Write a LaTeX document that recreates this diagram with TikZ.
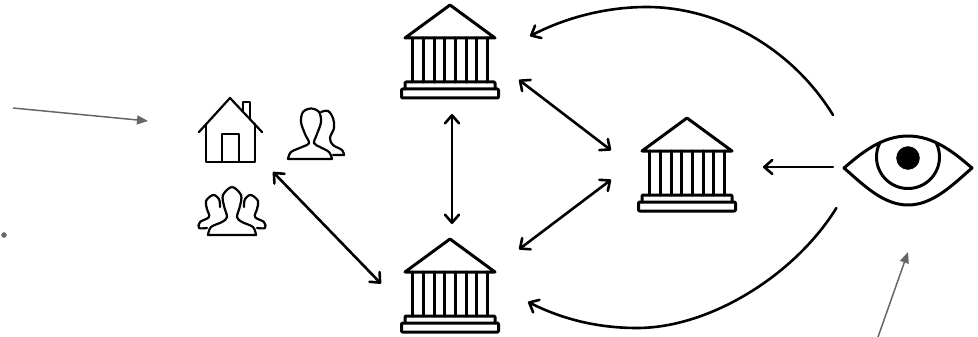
\documentclass[tikz,border=0pt]{standalone}
\usetikzlibrary{arrows.meta}

\begin{document}
\begin{tikzpicture}[x=1pt,y=-1pt]

    \tikzset{
      iconbox/.style={
        inner sep=0pt,
        outer sep=0pt,
        minimum width=138pt,
        minimum height=124pt,
      },
      icon/.style={
        line width=2.2pt,
        line join=round,
        line cap=round,
      },
      link/.style={
        line width=2.6pt,
        line cap=round,
        {Straight Barb[length=8pt,width=14pt,round]}-{Straight Barb[length=8pt,width=14pt,round]},
      },
      oneway/.style={
        line width=2.6pt,
        line cap=round,
        -{Straight Barb[length=8pt,width=14pt,round]},
      },
      pointer/.style={
        line width=1.5pt,
        color={black!60},
        -{Triangle[length=11pt,width=9pt]},
      },
      bank/.pic={
        \draw[icon,line width=3pt] (0,-47) -- (45,-14) -- (-45,-14) -- cycle;
        \foreach \x in {-37.5,-26.8,-16,-5.4,5.4,16,26.8,37.5}
          \draw[icon,line width=3pt] (\x,-14) -- (\x,30);
        \draw[icon,line width=3pt,rounded corners=1pt] (-45,37) -- (-45,30) -- (45,30) -- (45,37);
        \draw[icon,line width=3pt,rounded corners=1pt] (-48.5,37) rectangle (48.5,46);
      },
    }
    \useasboundingbox (0,0) rectangle (978,337);

    \node[iconbox] (banktop) at (450,52) {};
    \node[iconbox] (bankbottom) at (450,286) {};
    \node[iconbox,minimum width=152pt] (bankright) at (687,165) {};
    \node[iconbox,minimum width=86pt,minimum height=84pt] (house) at (230,130) {};
    \node[iconbox,minimum width=150pt,minimum height=93pt] (eye) at (908,161.5) {};
    \coordinate (pointerastart) at (13,108);
    \coordinate (pointeraend) at (148,121);
    \coordinate (pointerbstart) at (878,337);
    \coordinate (pointerbend) at (908,252);

    \pic at (banktop) {bank};
    \pic at (bankbottom) {bank};
    \pic at (bankright) {bank};

    % house
    \begin{scope}[shift={(house)}]
      \draw[icon] (-31,2) -- (0,-32) -- (32,2);
      \draw[icon] (-24,-6) -- (-24,32) -- (25,32) -- (25,-6);
      \draw[icon] (-8,32) -- (-8,4) -- (9,4) -- (9,32);
      \draw[icon] (13,-18) -- (13,-28) -- (20,-28) -- (20,-11);
    \end{scope}

    % people
    \draw[icon] plot[smooth,tension=0.6] coordinates {(321,112) (328,111) (333,118) (334,128) (330,138) (333,145) (342,150) (344,155)} -- (333,155);
    \draw[icon] plot[smooth,tension=0.55] coordinates {(288,159) (291,152) (302,147) (309,143) (305,134) (301,122) (303,112) (311,108.5) (319,112) (321,122) (317,134) (314,143) (320,147) (329,152) (332,159)} -- cycle;

    \draw[icon] plot[smooth,tension=0.55] coordinates {(207,228) (199,228) (200,222) (209,217) (207,209) (206,201) (213,195) (219,199) (220,207)};
    \draw[icon] plot[smooth,tension=0.55] coordinates {(257,228) (265,228) (264,222) (255,217) (257,209) (258,201) (251,195) (245,199) (244,207)};
    \draw[icon] plot[smooth,tension=0.55] coordinates {(208,235) (211,227) (222,222) (227,217) (224,206) (223,195) (232,187) (241,195) (240,206) (237,217) (242,222) (253,227) (256,235)} -- cycle;

    % eye
    \begin{scope}[shift={(eye)}]
      \draw[icon,line width=3pt] (-64,6.5) .. controls (-45,-10) and (-25,-25.5) .. (0,-25.5) .. controls (25,-25.5) and (45,-10) .. (64,6.5) .. controls (45,23) and (25,43.5) .. (0,43.5) .. controls (-25,43.5) and (-45,23) .. cycle;
      \begin{scope}
        \clip (-64,6.5) .. controls (-45,-10) and (-25,-25.5) .. (0,-25.5) .. controls (25,-25.5) and (45,-10) .. (64,6.5) .. controls (45,23) and (25,43.5) .. (0,43.5) .. controls (-25,43.5) and (-45,23) .. cycle;
        \draw[icon,line width=3pt] (0,-4.5) circle (31.5);
      \end{scope}
      \filldraw[color={black},fill={black}] (0,-3.5) circle (11.5);
    \end{scope}

    \draw[link] (banktop.-22) -- (bankright.169);
    \draw[link] (bankbottom.28) -- (bankright.191);
    \draw[link] ([xshift=2pt]banktop.south) -- ([xshift=2pt]bankbottom.north);
    \draw[link] (house.south east) -- (bankbottom.178.3);
    \draw[oneway] ([yshift=-5.5pt]eye.west) -- ([yshift=-2pt]bankright.east);
    \draw[oneway] (eye.north west) .. controls (790,45) and (715,7) .. (647,7) .. controls (605,7) and (565,18) .. ([xshift=11pt]banktop.13.8);
    \draw[oneway] (eye.213.6) .. controls (795,275) and (710,328) .. (637,328) .. controls (595,328) and (560,318) .. ([xshift=9pt]bankbottom.-13);

    \draw[pointer] (pointerastart) -- (pointeraend);
    \draw[pointer] (pointerbstart) -- (pointerbend);
    \filldraw[color={black!60},fill={black!60}] (4,235) circle (2.5);

\end{tikzpicture}
\end{document}
